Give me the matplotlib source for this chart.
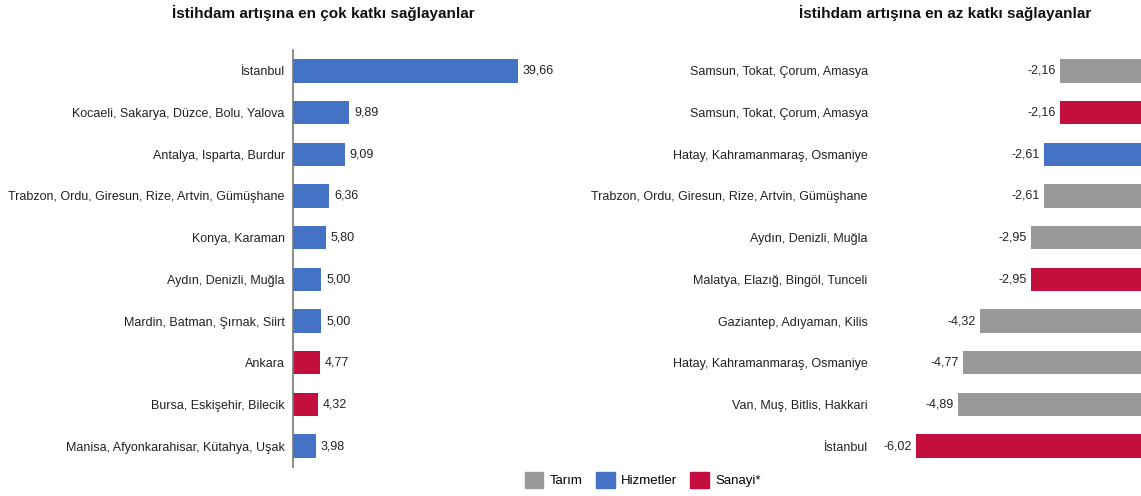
import matplotlib.pyplot as plt
from matplotlib.patches import Patch

plt.rcParams['font.family'] = ['Liberation Sans', 'DejaVu Sans']

# colours per sector
c_tarim = '#999999'
c_hizmet = '#4472C4'
c_sanayi = '#C40E3E'

# left panel: largest contributors
left_labels = ['İstanbul', 'Kocaeli, Sakarya, Düzce, Bolu, Yalova', 'Antalya, Isparta, Burdur',
               'Trabzon, Ordu, Giresun, Rize, Artvin, Gümüşhane', 'Konya, Karaman',
               'Aydın, Denizli, Muğla', 'Mardin, Batman, Şırnak, Siirt', 'Ankara',
               'Bursa, Eskişehir, Bilecik', 'Manisa, Afyonkarahisar, Kütahya, Uşak']
left_values = [39.66, 9.89, 9.09, 6.36, 5.80, 5.00, 5.00, 4.77, 4.32, 3.98]
left_sector = ['H', 'H', 'H', 'H', 'H', 'H', 'H', 'S', 'S', 'H']

# right panel: smallest contributors
right_labels = ['Samsun, Tokat, Çorum, Amasya', 'Samsun, Tokat, Çorum, Amasya',
                'Hatay, Kahramanmaraş, Osmaniye', 'Trabzon, Ordu, Giresun, Rize, Artvin, Gümüşhane',
                'Aydın, Denizli, Muğla', 'Malatya, Elazığ, Bingöl, Tunceli',
                'Gaziantep, Adıyaman, Kilis', 'Hatay, Kahramanmaraş, Osmaniye',
                'Van, Muş, Bitlis, Hakkari', 'İstanbul']
right_values = [-2.16, -2.16, -2.61, -2.61, -2.95, -2.95, -4.32, -4.77, -4.89, -6.02]
right_sector = ['T', 'S', 'H', 'T', 'T', 'S', 'T', 'T', 'T', 'S']

cmap = {'T': c_tarim, 'H': c_hizmet, 'S': c_sanayi}

def fmt(v):
    return ('%.2f' % v).replace('.', ',')

W, H = 1141, 496
fig = plt.figure(figsize=(W / 100, H / 100), dpi=100)

# left axes
ax1 = fig.add_axes([293 / W, (H - 467) / H, 267 / W, 417 / H])
pos = list(range(len(left_values)))
ax1.barh(pos, left_values, height=0.56, color=[cmap[s] for s in left_sector])
ax1.set_xlim(0, 47.06)
ax1.set_ylim(9.5, -0.5)
ax1.set_yticks(pos)
ax1.set_yticklabels(left_labels, fontsize=9, color='#222222')
ax1.tick_params(axis='y', length=0, pad=6)
ax1.set_xticks([])
for s in ['top', 'right', 'bottom']:
    ax1.spines[s].set_visible(False)
ax1.spines['left'].set_color('#777777')
ax1.spines['left'].set_linewidth(1.2)
for p, v in zip(pos, left_values):
    ax1.text(v + 0.85, p, fmt(v), va='center', ha='left', fontsize=9, color='#222222')

# right axes
ax2 = fig.add_axes([876 / W, (H - 467) / H, 265 / W, 417 / H])
ax2.barh(pos, right_values, height=0.56, color=[cmap[s] for s in right_sector])
ax2.set_xlim(-7.095, 0)
ax2.set_ylim(9.5, -0.5)
ax2.set_yticks(pos)
ax2.set_yticklabels(right_labels, fontsize=9, color='#222222')
ax2.tick_params(axis='y', length=0, pad=6)
ax2.set_xticks([])
for s in ax2.spines.values():
    s.set_visible(False)
for p, v in zip(pos, right_values):
    ax2.text(v - 0.11, p, fmt(v), va='center', ha='right', fontsize=9, color='#222222')

fig.text(323 / W, 1 - 13 / H, 'İstihdam artışına en çok katkı sağlayanlar', ha='center', va='center',
         fontsize=11, fontweight='bold', color='#111111')
fig.text(945 / W, 1 - 13 / H, 'İstihdam artışına en az katkı sağlayanlar', ha='center', va='center',
         fontsize=11, fontweight='bold', color='#111111')

handles = [Patch(color=c_tarim, label='Tarım'), Patch(color=c_hizmet, label='Hizmetler'),
           Patch(color=c_sanayi, label='Sanayi*')]
fig.legend(handles=handles, loc='center', bbox_to_anchor=(643 / W, 16 / H), ncol=3, frameon=False,
           fontsize=9.5, handlelength=1.4, handleheight=1.4, handletextpad=0.5, columnspacing=1.0)

fig.savefig('out.png', dpi=100)
